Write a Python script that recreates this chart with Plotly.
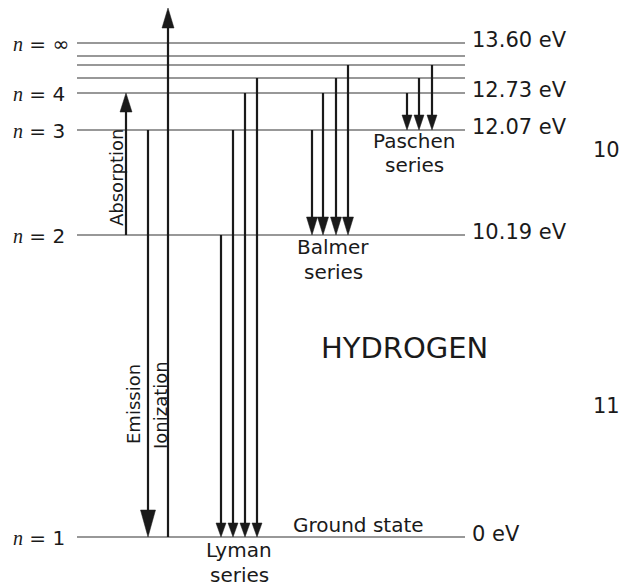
import plotly.graph_objects as go

# ---------------- data ----------------
level_names = ["1", "2", "3", "4", "5", "6", "7", "∞"]
# schematic (not-to-scale) diagram heights of each level
level_heights = [0, 302, 407, 444, 459, 472, 481, 494]

labeled_levels = ["∞", "4", "3", "2", "1"]
energy_labels = ["13.60 eV", "12.73 eV", "12.07 eV", "10.19 eV", "0 eV"]

# transitions (from level, to level)
absorption = [("2", "4")]
emission = [("3", "1")]
ionization = [("1", "top")]
lyman = [("2", "1"), ("3", "1"), ("4", "1"), ("5", "1")]
balmer = [("3", "2"), ("4", "2"), ("5", "2"), ("6", "2")]
paschen = [("4", "3"), ("5", "3"), ("6", "3")]

# ---------------- layout constants ----------------
W, H = 623, 588
Y_BASE = 537          # pixel row of the ground state
TOP = 529             # top of ionization arrow (diagram units)
X0, X1 = 77, 465      # level line extent
h = dict(zip(level_names, level_heights))
h["top"] = TOP

arrow_x = {
    "absorption": [126],
    "emission": [148],
    "ionization": [168],
    "lyman": [221, 233, 245, 257],
    "balmer": [312, 323, 336, 348],
    "paschen": [407, 419, 432],
}
head = {  # (width, length)
    "absorption": (12, 19),
    "emission": (15, 27),
    "ionization": (12, 20),
    "lyman": (10, 14),
    "balmer": (11, 18),
    "paschen": (10, 15),
}
groups = {
    "absorption": absorption, "emission": emission, "ionization": ionization,
    "lyman": lyman, "balmer": balmer, "paschen": paschen,
}

INK = "#1a1a1a"
fig = go.Figure()

# level lines
lx, ly = [], []
for name in level_names:
    lx += [X0, X1, None]
    ly += [h[name], h[name], None]
fig.add_trace(go.Scatter(x=lx, y=ly, mode="lines",
                         line=dict(color="#333333", width=1.2),
                         hoverinfo="skip", showlegend=False))

# arrows
sx, sy, hx, hy = [], [], [], []
for key, trans in groups.items():
    w, L = head[key]
    for x, (a, b) in zip(arrow_x[key], trans):
        y0, y1 = h[a], h[b]
        d = 1 if y1 > y0 else -1
        base = y1 - d * L
        sx += [x, x, None]
        sy += [y0, base + d * 2, None]
        hx += [x - w / 2, x + w / 2, x, x - w / 2, None]
        hy += [base, base, y1, base, None]
fig.add_trace(go.Scatter(x=sx, y=sy, mode="lines",
                         line=dict(color=INK, width=2.2),
                         hoverinfo="skip", showlegend=False))
fig.add_trace(go.Scatter(x=hx, y=hy, mode="lines", fill="toself",
                         fillcolor=INK, line=dict(color=INK, width=0.5),
                         hoverinfo="skip", showlegend=False))

FONT = "DejaVu Sans, Arial, sans-serif"
ann = []
for name in labeled_levels:
    ann.append(dict(
        x=11, y=h[name], xanchor="left", yanchor="middle", showarrow=False,
        text='<span style="font-family:Liberation Serif, Times New Roman, serif"><i>n</i></span> = ' + name,
        font=dict(size=20, color=INK, family=FONT), yshift=-1))
for name, lab in zip(labeled_levels, energy_labels):
    ann.append(dict(
        x=470, y=h[name], xanchor="left", yanchor="middle", showarrow=False,
        text=lab, font=dict(size=21, color=INK, family=FONT), yshift=3))

def txt(x, y_px, t, size=20, angle=0):
    ann.append(dict(x=x, y=Y_BASE - y_px, xanchor="center", yanchor="middle",
                    showarrow=False, text=t, textangle=angle,
                    font=dict(size=size, color=INK, family=FONT)))

txt(414, 141, "Paschen")
txt(414, 165, "series")
txt(333, 247, "Balmer")
txt(333, 272, "series")
txt(239, 550, "Lyman")
txt(239, 575, "series")
txt(358, 525, "Ground state")
txt(404, 348, "HYDROGEN", size=29)
txt(606, 150, "10", size=21)
txt(606, 406, "11", size=21)
txt(116, 178, "Absorption", size=18, angle=-90)
txt(133, 404, "Emission", size=18, angle=-90)
txt(160, 405, "Ionization", size=18, angle=-90)

fig.update_layout(
    width=W, height=H,
    margin=dict(l=0, r=0, t=0, b=0),
    paper_bgcolor="white", plot_bgcolor="white",
    xaxis=dict(range=[0, W], visible=False, fixedrange=True),
    yaxis=dict(range=[Y_BASE - H, Y_BASE], visible=False, fixedrange=True),
    annotations=ann, showlegend=False,
    hovermode=False,
)
fig.write_html(
    "out.html",
    config={"displayModeBar": False, "staticPlot": True},
    post_script="document.body.style.margin='0';document.body.style.overflow='hidden';",
)
